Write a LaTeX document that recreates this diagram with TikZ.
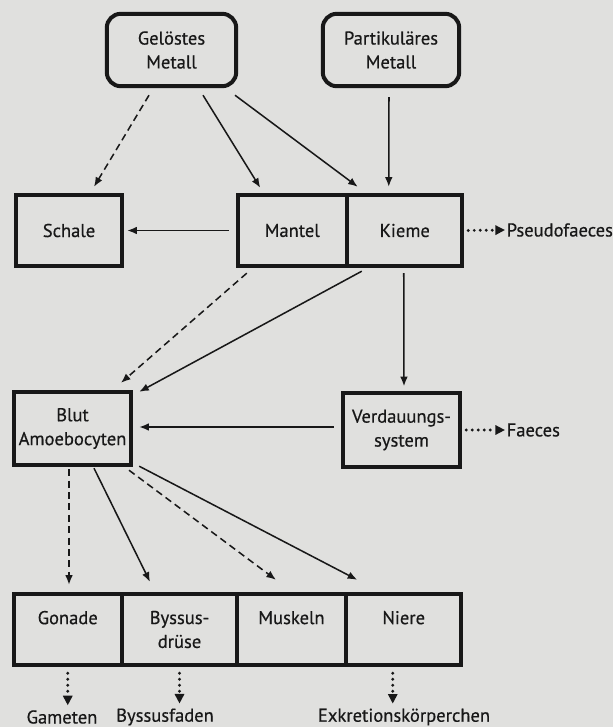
\documentclass[tikz,border=0pt]{standalone}
\usepackage{fontspec}
\setmainfont{PT Sans}[UprightFeatures={FakeBold=0.5}]
\usetikzlibrary{arrows.meta, calc}

\definecolor{scanbg}{RGB}{224,224,222}
\definecolor{ink}{RGB}{24,24,24}

\begin{document}
\begin{tikzpicture}[x=0.25mm, y=-0.25mm,
	every node/.style={font=\fontsize{13.2}{17}\selectfont, text=ink},
	quelle/.style={draw=ink, line width=1mm, rounded corners=3.5mm, align=center, minimum height=18.1mm, inner sep=0pt},
	organ/.style={draw=ink, line width=1mm, align=center, minimum height=17.85mm, inner sep=0pt},
	fluss/.style={-{Latex[length=2.4mm,width=1.9mm]}, line width=0.38mm, draw=ink},
	neben/.style={fluss, dash pattern=on 1.75mm off 1.1mm},
	aus/.style={-{Triangle[length=2.4mm,width=2.3mm]}, line width=0.8mm, draw=ink, dash pattern=on 0pt off 1.5mm, line cap=round}]
	\fill[scanbg] (0,0) rectangle (613,727);
	\useasboundingbox (0,0) rectangle (613,727);

	\node[quelle, minimum width=32.35mm] (geloest) at (171.5,50) {Gelöstes\\Metall};
	\node[quelle, minimum width=34.1mm] (partikel) at (391,50) {Partikuläres\\Metall};
	\node[organ, minimum width=26.6mm] (schale) at (69,230.5) {Schale};
	\node[organ, minimum width=27.25mm] (mantel) at (292.25,230.5) {Mantel};
	\node[organ, minimum width=28.75mm] (kieme) at (404.75,230.5) {Kieme};
	\node[anchor=west, inner sep=1pt] (pseudo) at (505,230) {Pseudofaeces};
	\node[organ, minimum width=29.35mm, minimum height=18.35mm] (blut) at (72.5,428.5) {Blut\\Amoebocyten};
	\node[organ, minimum width=29.35mm, minimum height=18.35mm] (verdau) at (401.5,430) {Verdauungs-\\system};
	\node[anchor=west, inner sep=1pt] (faeces) at (505,430) {Faeces};
	\node[organ, minimum width=26.95mm] (gonade) at (67.75,629.5) {Gonade\\\mbox{}};
	\node[organ, minimum width=28.6mm] (byssus) at (179.5,629.5) {Byssus-\\drüse};
	\node[organ, minimum width=27.1mm] (muskel) at (291.5,629.5) {Muskeln\\\mbox{}};
	\node[organ, minimum width=28.75mm] (niere) at (403.75,629.5) {Niere\\\mbox{}};
	\node (gameten) at (62,717) {Gameten};
	\node (byssusf) at (165,717) {Byssusfaden};
	\node (exkret) at (404,717) {Exkretionskörperchen};
	\coordinate (nierefuss) at ($(niere.south)+(-11,0)$);

	% Aufnahme
	\draw[neben] ($(geloest.south)+(-22.5,7)$) -- ($(schale.north)+(25,-6)$);
	\draw[fluss] ($(geloest.south)+(31.5,7)$) -- ($(mantel.north)+(-32,-5)$);
	\draw[fluss] ($(geloest.south)+(63.5,7)$) -- ($(kieme.north)+(-47,-6)$);
	\draw[fluss] ($(partikel.south)+(-2,9)$) -- ($(kieme.north)+(-16,-6)$);
	\draw[fluss] ($(mantel.west)+(-7,0)$) -- ($(schale.east)+(3,0)$);

	% Transport
	\draw[neben] ($(mantel.south)+(-45.5,5)$) -- ($(blut.north)+(48.5,-7)$);
	\draw[fluss] ($(kieme.south)+(-43,3)$) -- ($(blut.north east)+(6,2)$);
	\draw[fluss] ($(kieme.south)+(-1,5)$) -- ($(verdau.north)+(2.5,-5)$);
	\draw[fluss] ($(verdau.west)+(-7,-3)$) -- ($(blut.east)+(6,-1.5)$);
	\draw[neben] ($(blut.south)+(-3.5,2)$) -- ($(gonade.north)+(1.25,-7)$);
	\draw[fluss] ($(blut.south)+(21.5,1)$) -- ($(byssus.north)+(-29.5,-10)$);
	\draw[neben] ($(blut.south)+(56.5,3)$) -- ($(muskel.north)+(-15.5,-12)$);
	\draw[fluss] ($(blut.south east)+(6,-1)$) -- ($(niere.north)+(-46.5,-12)$);

	% Ausscheidung
	\draw[aus, shorten <=1mm] (kieme.east) -- (pseudo.west);
	\draw[aus, shorten <=1mm] (verdau.east) -- (faeces.west);
	\draw[aus, shorten <=1.5mm] (gonade.south) -- (gonade.south |- gameten.north);
	\draw[aus, shorten <=1.5mm] (byssus.south) -- (byssus.south |- byssusf.north);
	\draw[aus, shorten <=1.5mm] (nierefuss) -- (nierefuss |- exkret.north);
\end{tikzpicture}
\end{document}
